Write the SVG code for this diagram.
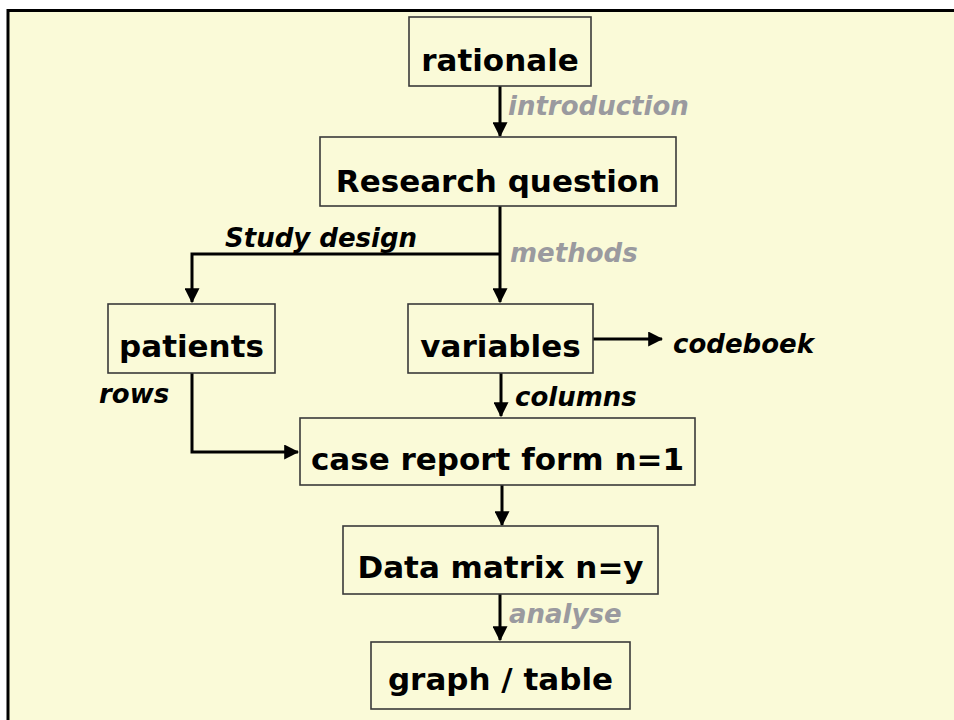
<svg xmlns="http://www.w3.org/2000/svg" width="954" height="720" viewBox="0 0 954 720">
<defs>
<style>
.box{fill:#fafad8;stroke:#3a3a3a;stroke-width:1.6}
.t{font-family:"DejaVu Sans",Verdana,sans-serif;font-weight:bold;font-size:31px;fill:#000;text-anchor:middle}
.lb{font-family:"DejaVu Sans",Verdana,sans-serif;font-weight:bold;font-style:italic;font-size:26px;fill:#000}
.gr{fill:#9a9a9f}
.c{fill:none;stroke:#000;stroke-width:3}
</style>
<marker id="ah" markerWidth="5" markerHeight="5" refX="4.6" refY="2.5" orient="auto" markerUnits="strokeWidth">
<path d="M0,0 L5,2.5 L0,5 Z" fill="#000"/>
</marker>
</defs>
<rect x="0" y="0" width="954" height="720" fill="#fff"/>
<rect x="8" y="10.5" width="960" height="720" fill="#fafad8" stroke="#000" stroke-width="3"/>
<g id="connectors">
<path class="c" d="M500,86 V136" marker-end="url(#ah)"/>
<path class="c" d="M500,206 V302" marker-end="url(#ah)"/>
<path class="c" d="M500,254 H192 V302" marker-end="url(#ah)"/>
<path class="c" d="M593,339 H662" marker-end="url(#ah)"/>
<path class="c" d="M501,373 V416" marker-end="url(#ah)"/>
<path class="c" d="M192,373 V452 H298" marker-end="url(#ah)"/>
<path class="c" d="M502,485 V525" marker-end="url(#ah)"/>
<path class="c" d="M500,594 V640" marker-end="url(#ah)"/>
<text class="lb gr" x="508" y="115">introduction</text>
<text class="lb" x="225" y="247">Study design</text>
<text class="lb gr" x="510" y="262">methods</text>
<text class="lb" x="673" y="353">codeboek</text>
<text class="lb" x="99" y="403">rows</text>
<text class="lb" x="515" y="406">columns</text>
<text class="lb gr" x="509" y="623">analyse</text>
</g>
<g id="rationale"><rect class="box" x="409" y="17" width="182" height="69"/><text class="t" x="500" y="71">rationale</text></g>
<g id="research-question"><rect class="box" x="320" y="137" width="356" height="69"/><text class="t" x="498" y="192">Research question</text></g>
<g id="patients"><rect class="box" x="108" y="304" width="167" height="69"/><text class="t" x="191.5" y="357">patients</text></g>
<g id="variables"><rect class="box" x="408" y="304" width="185" height="69"/><text class="t" x="500.5" y="357">variables</text></g>
<g id="case-report-form"><rect class="box" x="300" y="418" width="395" height="67"/><text class="t" x="497.5" y="470">case report form n=1</text></g>
<g id="data-matrix"><rect class="box" x="343" y="526" width="315" height="68"/><text class="t" x="500.5" y="578">Data matrix n=y</text></g>
<g id="graph-table"><rect class="box" x="371" y="642" width="259" height="67"/><text class="t" x="500.5" y="690">graph / table</text></g>
</svg>
